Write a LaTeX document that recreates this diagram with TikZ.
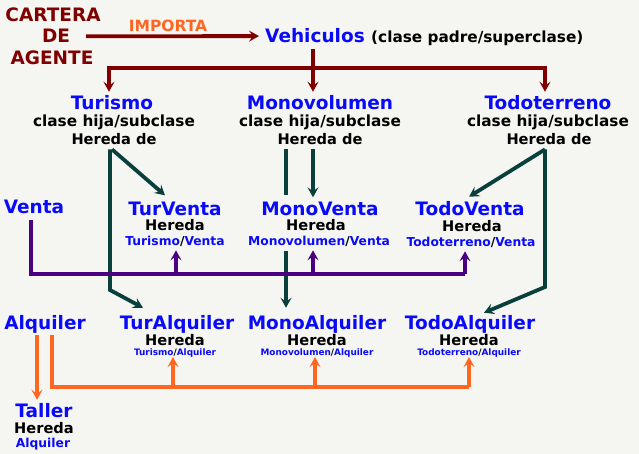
\documentclass[tikz,border=0pt]{standalone}
\usepackage{fontspec}
\setmainfont{DejaVu Sans}
\usetikzlibrary{arrows.meta,positioning}
\definecolor{AgentRed}{RGB}{128,0,0}
\definecolor{ClassBlue}{RGB}{10,10,250}
\definecolor{RentOrange}{RGB}{255,102,34}
\definecolor{InheritTeal}{RGB}{10,64,60}
\definecolor{SalePurple}{RGB}{75,0,130}
\definecolor{PaperGray}{RGB}{245,245,242}

\begin{document}
\begin{tikzpicture}[x=1pt, y=-1pt,
  txt/.style={anchor=base, inner sep=0pt},
  clsname/.style={txt, text=ClassBlue, font=\bfseries\fontsize{18.5}{20}\selectfont},
  agentname/.style={txt, text=AgentRed, font=\bfseries\fontsize{18.5}{20}\selectfont},
  subline/.style={txt, font=\bfseries\fontsize{15.3}{17}\selectfont},
  heredaline/.style={txt, font=\bfseries\fontsize{14.6}{16}\selectfont},
  parentline/.style={txt, text=ClassBlue, font=\bfseries\fontsize{12.3}{14}\selectfont},
  tinyparent/.style={txt, text=ClassBlue, font=\bfseries\fontsize{8.9}{10}\selectfont},
  tipmark/.style={-{Stealth[length=10pt,width=11pt,inset=4pt]}},
  agentline/.style={line width=3.8pt, AgentRed},
  inheritline/.style={line width=3.8pt, InheritTeal},
  saleline/.style={line width=3.8pt, SalePurple},
  rentline/.style={line width=3.5pt, RentOrange}]
\fill[PaperGray] (0,0) rectangle (639,454);
\useasboundingbox (0,0) rectangle (639,454);

% importing agent and parent class
\node[agentname] (cart1) at (53,22) {CARTERA};
\node[agentname] (cart2) at (56,43) {DE};
\node[agentname] (cart3) at (52,65) {AGENTE};
\node[txt, text=RentOrange, font=\bfseries\fontsize{15.5}{17}\selectfont] (imp) at (168,32) {IMPORTA};
\node[clsname, anchor=base west] (veh) at (265,43) {Vehiculos};
\node[subline, anchor=base west] (vehnote) at (371,43) {(clase padre/superclase)};

% child classes
\node[clsname] (tur) at (112,110) {Turismo};
\node[subline] (tursub) at (114,127) {clase hija/subclase};
\node[heredaline] (turher) at (114,145) {Hereda de};
\node[clsname] (mono) at (320,110) {Monovolumen};
\node[subline] (monosub) at (320,127) {clase hija/subclase};
\node[heredaline] (monoher) at (320,145) {Hereda de};
\node[clsname] (todo) at (548,110) {Todoterreno};
\node[subline] (todosub) at (548,127) {clase hija/subclase};
\node[heredaline] (todoher) at (549,145) {Hereda de};

% sale row
\node[clsname] (venta) at (34,214) {Venta};
\node[clsname] (turv) at (175,215) {TurVenta};
\node[heredaline] (turvh) at (175,231) {Hereda};
\node[parentline] (turvp) at (175,245) {Turismo\textcolor{black}{/}Venta};
\node[clsname] (monov) at (320,215) {MonoVenta};
\node[heredaline] (monovh) at (316,231) {Hereda};
\node[parentline] (monovp) at (319,245) {Monovolumen\textcolor{black}{/}Venta};
\node[clsname] (todov) at (470,216) {TodoVenta};
\node[heredaline] (todovh) at (472,232) {Hereda};
\node[parentline] (todovp) at (471,246) {Todoterreno\textcolor{black}{/}Venta};

% rent row
\node[clsname] (alq) at (45,329) {Alquiler};
\node[clsname] (turalq) at (177,329) {TurAlquiler};
\node[heredaline] (turalqh) at (175,345) {Hereda};
\node[tinyparent] (turalqp) at (175,355) {Turismo\textcolor{black}{/}Alquiler};
\node[clsname] (monoalq) at (317,329) {MonoAlquiler};
\node[heredaline] (monoalqh) at (317,345) {Hereda};
\node[tinyparent] (monoalqp) at (317,355) {Monovolumen\textcolor{black}{/}Alquiler};
\node[clsname] (todoalq) at (470,329) {TodoAlquiler};
\node[heredaline] (todoalqh) at (469,345) {Hereda};
\node[tinyparent] (todoalqp) at (469,355) {Todoterreno\textcolor{black}{/}Alquiler};
\node[clsname] (taller) at (44,417) {Taller};
\node[heredaline] (tallerh) at (44,433) {Hereda};
\node[parentline] (tallerp) at (43,447) {Alquiler};

% red import and split
\coordinate (split) at (313,68);
\draw[agentline, tipmark] ([xshift=16pt]cart2.east) -- ([xshift=-6pt]veh.west);
\draw[agentline] ([yshift=-6pt]split |- veh.south) -- (split);
\draw[agentline, tipmark] (split) -| ([xshift=-3pt,yshift=4pt]tur.north);
\draw[agentline, tipmark] (split) -- ([yshift=4pt]split |- mono.north);
\draw[agentline, tipmark] (split) -| ([xshift=-3pt,yshift=4pt]todo.north);

% inheritance lines
\coordinate (turbend) at (110,290);
\coordinate (todobend) at (545,287);
\draw[inheritline, tipmark] ([yshift=-4pt]turbend |- turher.south) -- (turbend) -- ([xshift=-34pt,yshift=7pt]turalq.north);
\draw[inheritline, tipmark] ([xshift=-2pt,yshift=-4pt]turher.south) -- ([xshift=-10pt,yshift=6pt]turv.north);
\draw[inheritline] ([xshift=-34pt,yshift=-4pt]monoher.south) -- ++(0,46);
\draw[inheritline, tipmark] ([xshift=-33pt,yshift=-5pt]monovp.south) -- ([xshift=-31pt,yshift=7pt]monoalq.north);
\draw[inheritline, tipmark] ([xshift=-7pt,yshift=-4pt]monoher.south) -- ([xshift=-7pt,yshift=4pt]monov.north);
\draw[inheritline, tipmark] ([xshift=-4pt,yshift=-4pt]todoher.south) -- ([xshift=-1pt,yshift=5pt]todov.north);
\draw[inheritline, tipmark] ([yshift=-4pt]todobend |- todoher.south) -- (todobend) -- ([xshift=14pt,yshift=2pt]todoalq.north);

% sale bus
\coordinate (vbus) at (31,274);
\draw[saleline] ([yshift=-6pt]vbus |- venta.south) -- (vbus) -- ([xshift=-6pt]todovp.south |- vbus);
\draw[saleline, tipmark] ([xshift=1pt]turvp.south |- vbus) -- ([xshift=1pt,yshift=-4pt]turvp.south);
\draw[saleline, tipmark] ([xshift=-6pt]monovp.south |- vbus) -- ([xshift=-6pt,yshift=-4pt]monovp.south);
\draw[saleline, tipmark] ([xshift=-6pt]todovp.south |- vbus) -- ([xshift=-6pt,yshift=-4pt]todovp.south);

% rent bus
\coordinate (abus) at (52,387);
\draw[rentline, tipmark] ([xshift=-8pt,yshift=-2pt]alq.south) -- ([xshift=-7pt,yshift=3pt]taller.north);
\draw[rentline] ([yshift=-2pt]abus |- alq.south) -- (abus) -- (todoalqp.south |- abus);
\draw[rentline, tipmark] ([xshift=-2pt]turalqp.south |- abus) -- ([xshift=-2pt]turalqp.south);
\draw[rentline, tipmark] ([xshift=-2pt]monoalqp.south |- abus) -- ([xshift=-2pt]monoalqp.south);
\draw[rentline, tipmark] (todoalqp.south |- abus) -- (todoalqp.south);
\end{tikzpicture}
\end{document}
